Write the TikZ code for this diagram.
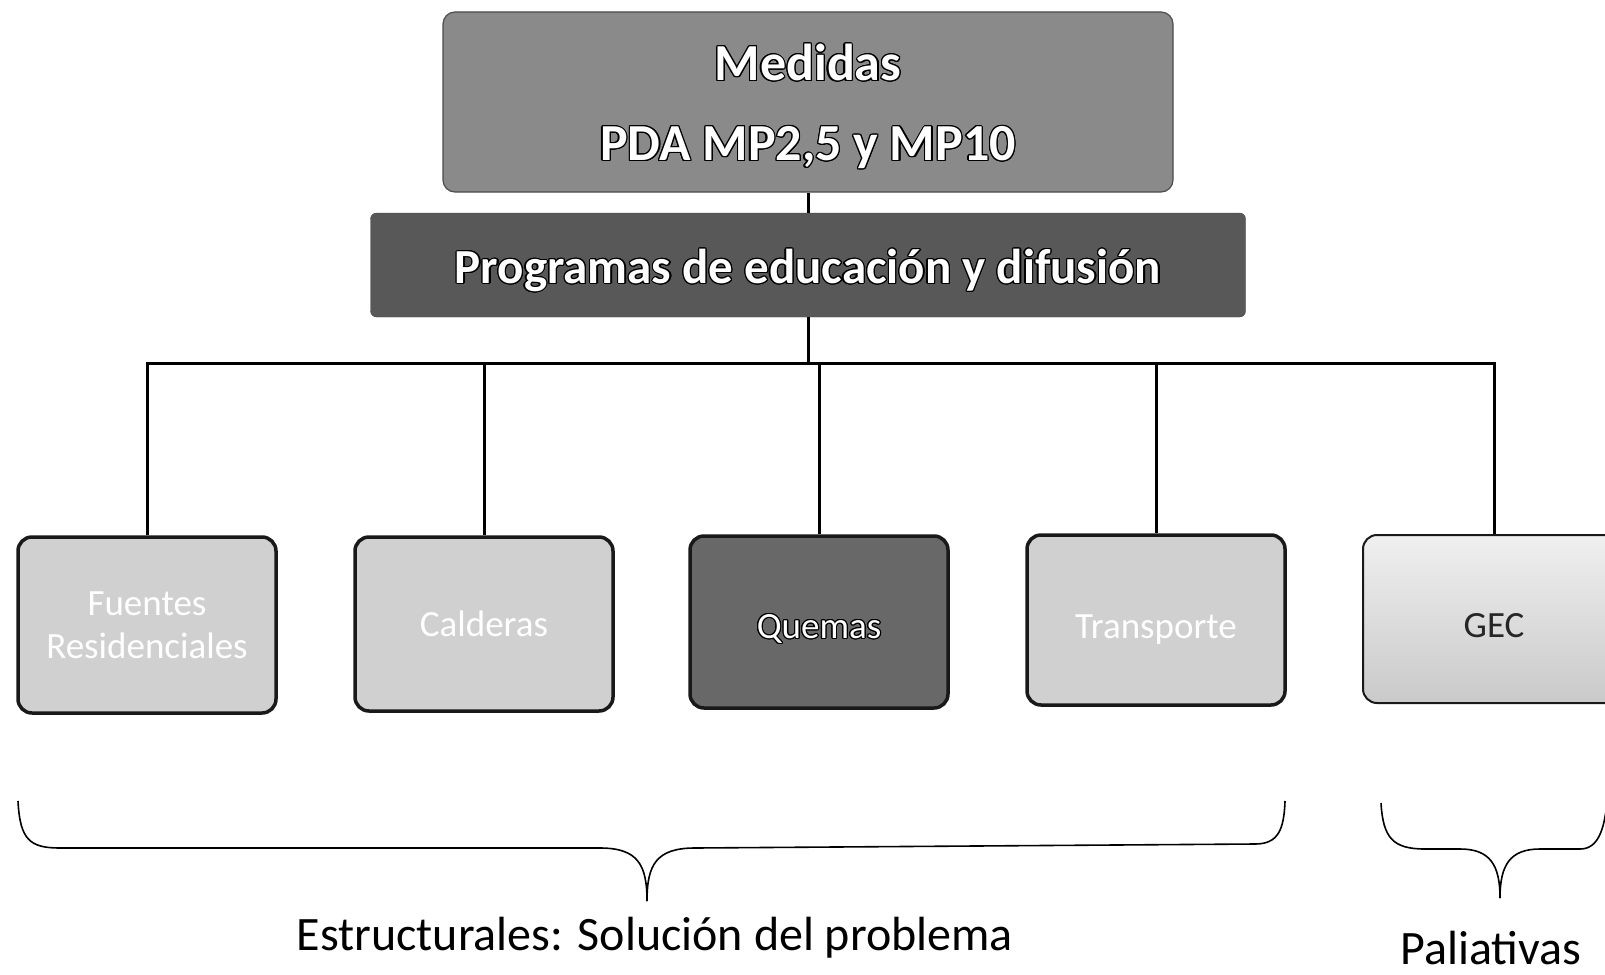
\documentclass[tikz,border=0pt]{standalone}
\usepackage{fontspec}
\setmainfont{Carlito}
\usepackage{contour}
\contourlength{1.2pt}
\definecolor{topgray}{RGB}{138,138,138}
\definecolor{progray}{RGB}{88,88,88}
\definecolor{quemgray}{RGB}{104,104,104}
\definecolor{palegray}{RGB}{208,208,208}
\begin{document}
\begin{tikzpicture}[x=1pt,y=-1pt,
    box/.style={draw=black!90,line width=3.5pt,rounded corners=14pt,minimum width=258pt,align=center,font=\fontsize{37}{43}\selectfont},
    pale/.style={box,fill=palegray,text=white},
    brace/.style={line width=1.6pt}]
        \useasboundingbox (0,0) rectangle (1605,974);
        \clip (0,0) rectangle (1605,974);
        % head of the tree
        \node[fill=topgray,draw=black!70,line width=1.2pt,rounded corners=12pt,minimum width=730pt,minimum height=180pt] (medidas) at (808,102) {};
        \node[align=center,font=\bfseries\fontsize{52}{80}\selectfont,text=white] (medidastxt) at (808,107) {\contour{black}{Medidas}\\\contour{black}{PDA MP2,5 y MP10}};
        \node[fill=progray,draw=progray!80!black,rounded corners=6pt,minimum width=875pt,minimum height=104pt,text height=49pt,text depth=12pt,font=\bfseries\fontsize{49}{60}\selectfont,text=white] (programas) at (808,265) {\contour{black}{Programas de educación y difusión}};
        % sources
        \node[pale,minimum height=176pt] (fuentes) at (147,625) {Fuentes\\Residenciales};
        \node[pale,minimum height=174pt] (calderas) at (484,624) {Calderas};
        \node[box,fill=quemgray,text=white,minimum height=172pt,text height=38pt,text depth=5pt] (quemas) at (819,622) {\contour{black}{Quemas}};
        \node[pale,minimum height=170pt,text height=44pt,text depth=7pt] (transporte) at (1156,620) {Transporte};
        \node[box,top color=gray!12,bottom color=gray!42,text=black!85,minimum width=262pt,minimum height=168pt,line width=2pt,text height=36pt,text depth=0pt] (gec) at (1494,619) {GEC};
        \coordinate (bus) at (0,363);
        \draw[line width=3pt] (medidas) -- (programas);
        \foreach \n in {fuentes,calderas,quemas,transporte,gec}
          \draw[line width=3pt] (programas.south) |- (\n.north |- bus) -- (\n.north);
        % braces
        \draw[brace] (18,801) .. controls (20,840) and (30,848) .. (60,848) -- (600,848) .. controls (638,848) and (647,865) .. (647,901);
        \draw[brace] (647,901) .. controls (647,865) and (656,848) .. (695,848) -- (1255,844) .. controls (1278,844) and (1284,830) .. (1285,801);
        \draw[brace] (1381,803) .. controls (1383,838) and (1393,849) .. (1425,849) -- (1460,849) .. controls (1490,849) and (1500,865) .. (1500,898);
        \draw[brace] (1500,898) .. controls (1500,865) and (1510,849) .. (1540,849) -- (1580,849) .. controls (1598,849) and (1604,830) .. (1607,803);
        \node[font=\fontsize{48}{60}\selectfont] (estructurales) at (655,938) {Estructurales: Solución del problema};
        \node[font=\fontsize{48}{60}\selectfont,inner sep=0pt] (paliativas) at (1491,948) {Paliativas};
        \end{tikzpicture}
\end{document}
